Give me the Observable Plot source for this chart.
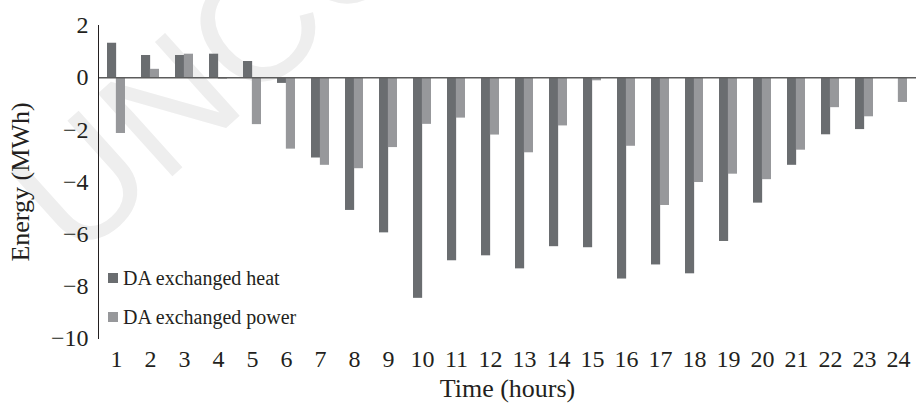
<!DOCTYPE html>
<html>
<head>
<meta charset="utf-8">
<script src="https://cdn.jsdelivr.net/npm/d3@7"></script>
<script src="https://cdn.jsdelivr.net/npm/@observablehq/plot@0.6"></script>
<style>
  body { margin: 0; background: #fff; }
  #chart { position: relative; width: 919px; height: 403px; overflow: hidden; font-family: "Liberation Serif", serif; }
  #mark { position: absolute; left: 38px; top: 222px; transform-origin: 0 0; transform: rotate(-42deg);
          font-family: "Liberation Sans", sans-serif; font-size: 162px; color: #eeeeee; white-space: nowrap;
          line-height: 0; pointer-events: none; }
  #chart svg { position: absolute; left: 0; top: 0; }
  .legend { position: absolute; left: 108px; top: 264px; font-size: 20px; color: #231f20; }
  .legend div { display: flex; align-items: center; height: 28px; margin-bottom: 11px; }
  .legend span.sw { width: 10px; height: 10px; margin-right: 5px; display: inline-block; }
</style>
</head>
<body>
<div id="chart"><div id="mark">UNCORRECTED PROOF</div></div>
<script>
// Day-ahead exchanged energy per hour
const hours = [1, 2, 3, 4, 5, 6, 7, 8, 9, 10, 11, 12, 13, 14, 15, 16, 17, 18, 19, 20, 21, 22, 23, 24];
const heat = [1.32, 0.85, 0.85, 0.9, 0.62, -0.22, -3.08, -5.09, -5.95, -8.46, -7.02, -6.83,
              -7.33, -6.48, -6.52, -7.72, -7.18, -7.52, -6.28, -4.81, -3.36, -2.19, -1.99, 0];
const power = [-2.14, 0.32, 0.9, -0.06, -1.8, -2.74, -3.36, -3.49, -2.68, -1.79, -1.55, -2.2,
               -2.88, -1.85, -0.12, -2.63, -4.9, -4.02, -3.7, -3.91, -2.78, -1.15, -1.5, -0.95];
const yTicks = [2, 0, -2, -4, -6, -8, -10];
const seriesNames = ["DA exchanged heat", "DA exchanged power"];
const seriesColors = ["#6a6d70", "#97989b"];

const heatRows = hours.map((h, i) => ({hour: h, series: seriesNames[0], value: heat[i]}));
const powerRows = hours.map((h, i) => ({hour: h, series: seriesNames[1], value: power[i]}));

const half = 8.86; // each series takes one half of the band

const chart = Plot.plot({
  width: 919,
  height: 403,
  marginTop: 25,
  marginBottom: 65,
  marginLeft: 98,
  marginRight: 3,
  style: {fontFamily: "'Liberation Serif', serif", fontSize: "24px", color: "#231f20", background: "transparent", overflow: "visible"},
  x: {type: "band", domain: hours, paddingInner: 0.48, paddingOuter: 0.24},
  y: {domain: [-10, 2]},
  color: {domain: seriesNames, range: seriesColors},
  marks: [
    Plot.barY(heatRows, {x: "hour", y: "value", fill: "series", insetRight: half}),
    Plot.barY(powerRows, {x: "hour", y: "value", fill: "series", insetLeft: half}),
    Plot.ruleY([0], {stroke: "#5c5c5c", strokeWidth: 1.5}),
    Plot.frame({anchor: "left", stroke: "#231f20"}),
    Plot.axisX({tickSize: 0, tickPadding: 11, label: null, fontSize: 24}),
    Plot.axisY({ticks: yTicks, tickSize: 0, tickPadding: 10, label: null, fontSize: 24}),
    Plot.text(["Time (hours)"], {text: d => d, frameAnchor: "bottom", dy: 50, fontSize: 26, textAnchor: "middle", lineAnchor: "middle"}),
    Plot.text(["Energy (MWh)"], {text: d => d, frameAnchor: "left", dx: -78, rotate: -90, fontSize: 26, textAnchor: "middle", lineAnchor: "middle"})
  ]
});

const root = document.getElementById("chart");
root.appendChild(chart);

// Legend inside the lower-left of the plot area
const legend = document.createElement("div");
legend.className = "legend";
seriesNames.forEach((name, i) => {
  const row = document.createElement("div");
  const sw = document.createElement("span");
  sw.className = "sw";
  sw.style.background = seriesColors[i];
  row.appendChild(sw);
  row.appendChild(document.createTextNode(name));
  legend.appendChild(row);
});
root.appendChild(legend);
</script>
</body>
</html>
